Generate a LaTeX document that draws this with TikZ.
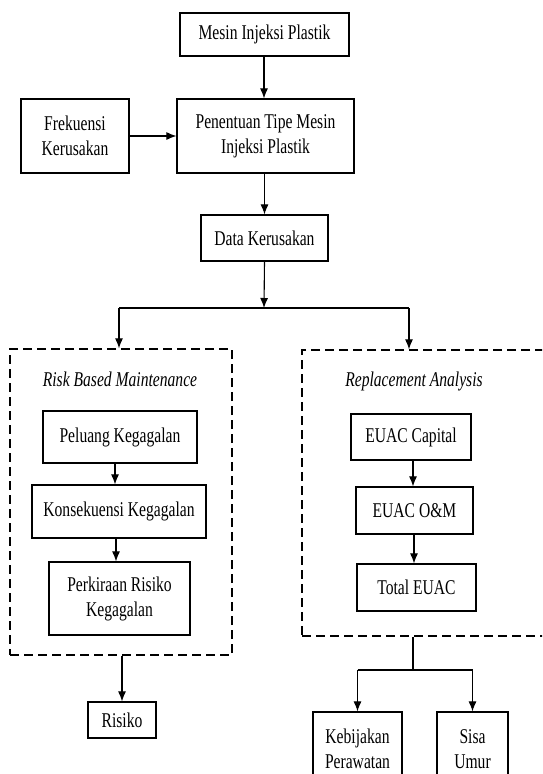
\documentclass[tikz,border=0pt]{standalone}
\usepackage{fontspec}
\setmainfont{Liberation Serif}[FakeStretch=0.743]
\usetikzlibrary{arrows.meta}

\begin{document}
\begin{tikzpicture}[>={Latex[length=10pt,width=8pt]}, x=1pt, y=-1pt,
  line width=1.1pt, font=\fontsize{21}{25}\selectfont,
  box/.style={draw, line width=1.2pt, align=center, inner sep=0pt},
  dashbox/.style={draw, line width=1.3pt, dash pattern=on 9pt off 5pt, inner sep=0pt},
  ttl/.style={font=\fontsize{21}{25}\selectfont\itshape}]

  \useasboundingbox (0,0) rectangle (542,774);
  \clip (0,0) rectangle (542,774);

  % top part
  \node[box, minimum width=169pt, minimum height=43pt] (mesin) at (264.5,34.5) {Mesin Injeksi Plastik};
  \node[box, minimum width=177pt, minimum height=74pt] (tipe) at (265.5,136) {Penentuan Tipe Mesin\\Injeksi Plastik};
  \node[box, minimum width=108pt, minimum height=74pt] (frek) at (75,136) {Frekuensi\\Kerusakan};
  \node[box, minimum width=127pt, minimum height=46pt] (data) at (264.5,238) {Data Kerusakan};

  \draw[->] (mesin.south -| 264,0) -- (264,0 |- tipe.north);
  \draw[->] (frek) -- (tipe);
  \draw[->] (data.north |- tipe.south) -- (data.north);

  % split
  \coordinate (jn) at (264,308);
  \coordinate (jl) at (119,308);
  \coordinate (jr) at (409,308);
  \draw[->] (data.south) -- (jn);
  \draw (jl) -- (jr);

  % dashed groups
  \node[dashbox, minimum width=222pt, minimum height=306pt] (rbm) at (121,502) {};
  \node[dashbox, minimum width=258pt, minimum height=286pt] (ra) at (431,493) {};
  \node[ttl] (rbmtitle) at (120,379) {Risk Based Maintenance};
  \node[ttl] (ratitle) at (414,381) {Replacement Analysis};
  \draw[->] (jl) -- (jl |- rbm.north);
  \draw[->] (jr) -- (jr |- ra.north);

  % risk based maintenance
  \node[box, minimum width=154pt, minimum height=52pt] (peluang) at (120,437) {Peluang Kegagalan};
  \node[box, minimum width=174pt, minimum height=53pt] (konsek) at (119,511.5) {Konsekuensi Kegagalan};
  \node[box, minimum width=141pt, minimum height=73pt] (perkiraan) at (119.5,598.5) {Perkiraan Risiko\\Kegagalan};
  \node[box, minimum width=68pt, minimum height=36pt] (risiko) at (122,720) {Risiko};
  \draw[->] (115,0 |- peluang.south) -- (115,0 |- konsek.north);
  \draw[->] (116,0 |- konsek.south) -- (116,0 |- perkiraan.north);
  \draw[->] (risiko.north |- rbm.south) -- (risiko.north);

  % replacement analysis
  \node[box, minimum width=120pt, minimum height=46pt] (capital) at (411,437) {EUAC Capital};
  \node[box, minimum width=117pt, minimum height=47pt] (om) at (414.5,510.5) {EUAC O\&M};
  \node[box, minimum width=119pt, minimum height=47pt] (total) at (416.5,587.5) {Total EUAC};
  \draw[->] (413,0 |- capital.south) -- (413,0 |- om.north);
  \draw[->] (414,0 |- om.south) -- (414,0 |- total.north);

  % results
  \node[box, minimum width=89pt, minimum height=74pt] (kebijakan) at (357.5,749) {Kebijakan\\Perawatan};
  \node[box, minimum width=71pt, minimum height=74pt] (sisa) at (472.5,749) {Sisa\\Umur};
  \coordinate (kn) at (413,670);
  \draw (413,0 |- ra.south) -- (kn);
  \draw (kn -| kebijakan.north) -- (kn -| sisa.north);
  \draw[->] (kn -| kebijakan.north) -- (kebijakan.north);
  \draw[->] (kn -| sisa.north) -- (sisa.north);
\end{tikzpicture}
\end{document}
